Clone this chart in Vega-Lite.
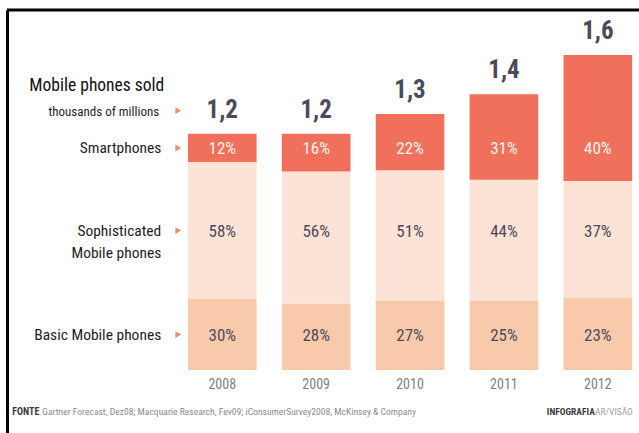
{
  "$schema": "https://vega.github.io/schema/vega-lite/v6.json",
  "autosize": "none",
  "width": 632,
  "height": 423,
  "padding": {"left": 7, "top": 10, "right": 0, "bottom": 0},
  "background": "white",
  "config": {"view": {"stroke": null}, "font": "Liberation Sans Narrow, Roboto Condensed, Roboto, sans-serif"},
  "datasets": {
    "segments": [
      {"year": "2008", "segment": "Basic Mobile phones", "order": 1, "value": 0.36, "share": "30%"},
      {"year": "2008", "segment": "Sophisticated\nMobile phones", "order": 2, "value": 0.696, "share": "58%"},
      {"year": "2008", "segment": "Smartphones", "order": 3, "value": 0.144, "share": "12%"},
      {"year": "2009", "segment": "Basic Mobile phones", "order": 1, "value": 0.336, "share": "28%"},
      {"year": "2009", "segment": "Sophisticated\nMobile phones", "order": 2, "value": 0.672, "share": "56%"},
      {"year": "2009", "segment": "Smartphones", "order": 3, "value": 0.192, "share": "16%"},
      {"year": "2010", "segment": "Basic Mobile phones", "order": 1, "value": 0.351, "share": "27%"},
      {"year": "2010", "segment": "Sophisticated\nMobile phones", "order": 2, "value": 0.663, "share": "51%"},
      {"year": "2010", "segment": "Smartphones", "order": 3, "value": 0.286, "share": "22%"},
      {"year": "2011", "segment": "Basic Mobile phones", "order": 1, "value": 0.35, "share": "25%"},
      {"year": "2011", "segment": "Sophisticated\nMobile phones", "order": 2, "value": 0.616, "share": "44%"},
      {"year": "2011", "segment": "Smartphones", "order": 3, "value": 0.434, "share": "31%"},
      {"year": "2012", "segment": "Basic Mobile phones", "order": 1, "value": 0.368, "share": "23%"},
      {"year": "2012", "segment": "Sophisticated\nMobile phones", "order": 2, "value": 0.592, "share": "37%"},
      {"year": "2012", "segment": "Smartphones", "order": 3, "value": 0.64, "share": "40%"}
    ],
    "totals": [
      {"year": "2008", "total": 1.2, "totalLabel": "1,2"},
      {"year": "2009", "total": 1.2, "totalLabel": "1,2"},
      {"year": "2010", "total": 1.3, "totalLabel": "1,3"},
      {"year": "2011", "total": 1.4, "totalLabel": "1,4"},
      {"year": "2012", "total": 1.6, "totalLabel": "1,6"}
    ],
    "one": [{}]
  },
  "data": {"name": "segments"},
  "transform": [
    {"stack": "value", "groupby": ["year"], "sort": [{"field": "order", "order": "ascending"}], "as": ["v0", "v1"]},
    {"calculate": "(datum.v0 + datum.v1) / 2", "as": "mid"},
    {"calculate": "datum.year === '2008' ? datum.mid : null", "as": "m8"},
    {"joinaggregate": [{"op": "max", "field": "m8", "as": "rowy"}], "groupby": ["segment"]}
  ],
  "layer": [
    {
      "mark": {"type": "bar"},
      "encoding": {
        "x": {"field": "year", "type": "nominal", "axis": null,
              "scale": {"type": "band", "domain": ["2008", "2009", "2010", "2011", "2012"], "paddingInner": 0.2688, "paddingOuter": 1.0323, "align": 0.9635}},
        "y": {"field": "v1", "type": "quantitative",
              "scale": {"domain": [-0.32, 1.8283], "nice": false, "zero": false},
              "axis": {"domain": true, "domainColor": "black", "domainWidth": 3, "ticks": false, "labels": false, "grid": false, "title": null}},
        "y2": {"field": "v0"},
        "color": {"field": "segment", "type": "nominal", "legend": null,
                  "scale": {"domain": ["Basic Mobile phones", "Sophisticated\nMobile phones", "Smartphones"], "range": ["#f8caab", "#fce3d6", "#f1705c"]}}
      }
    },
    {
      "mark": {"type": "text", "fontSize": 17, "baseline": "middle", "align": "center", "dy": 1},
      "encoding": {
        "x": {"field": "year", "type": "nominal"},
        "y": {"field": "rowy", "type": "quantitative"},
        "text": {"field": "share"},
        "color": {"condition": {"test": "datum.segment === 'Smartphones'", "value": "#fff4ee"}, "value": "#4d4a58"}
      }
    },
    {
      "transform": [{"filter": "datum.year === '2008'"}],
      "mark": {"type": "text", "fontSize": 15.5, "baseline": "middle", "align": "right", "dx": -61, "dy": 0, "lineBreak": "\n", "lineHeight": 22, "color": "#1e1e1e"},
      "encoding": {
        "x": {"field": "year", "type": "nominal"},
        "y": {"field": "rowy", "type": "quantitative"},
        "text": {"field": "segment"}
      }
    },
    {
      "transform": [{"filter": "datum.year === '2008'"}],
      "mark": {"type": "point", "shape": "triangle-right", "filled": true, "size": 45, "opacity": 1, "color": "#f08a72", "xOffset": -44},
      "encoding": {
        "x": {"field": "year", "type": "nominal"},
        "y": {"field": "rowy", "type": "quantitative"}
      }
    },
    {
      "data": {"name": "totals"},
      "mark": {"type": "text", "fontSize": 25, "fontWeight": "bold", "baseline": "alphabetic", "align": "center", "dy": -16, "color": "#4a4a5c"},
      "encoding": {
        "x": {"field": "year", "type": "nominal"},
        "y": {"field": "total", "type": "quantitative"},
        "text": {"field": "totalLabel"}
      }
    },
    {
      "data": {"name": "totals"},
      "mark": {"type": "text", "fontSize": 14, "baseline": "middle", "align": "center", "color": "#808080"},
      "encoding": {
        "x": {"field": "year", "type": "nominal"},
        "y": {"datum": -0.0762},
        "text": {"field": "year"}
      }
    },
    {
      "data": {"name": "totals"},
      "transform": [{"filter": "datum.year === '2008'"}],
      "mark": {"type": "text", "fontSize": 13, "baseline": "middle", "align": "right", "dx": -63, "dy": -22, "color": "#1e1e1e"},
      "encoding": {
        "x": {"field": "year", "type": "nominal"},
        "y": {"field": "total", "type": "quantitative"},
        "text": {"value": "thousands of millions"}
      }
    },
    {
      "data": {"name": "totals"},
      "transform": [{"filter": "datum.year === '2008'"}],
      "mark": {"type": "text", "fontSize": 17.5, "baseline": "middle", "align": "right", "dx": -58, "dy": -48, "color": "#111111"},
      "encoding": {
        "x": {"field": "year", "type": "nominal"},
        "y": {"field": "total", "type": "quantitative"},
        "text": {"value": "Mobile phones sold"}
      }
    },
    {
      "data": {"name": "totals"},
      "transform": [{"filter": "datum.year === '2008'"}],
      "mark": {"type": "point", "shape": "triangle-right", "filled": true, "size": 45, "opacity": 1, "color": "#f08a72", "xOffset": -44, "yOffset": -23},
      "encoding": {
        "x": {"field": "year", "type": "nominal"},
        "y": {"field": "total", "type": "quantitative"}
      }
    },
    {
      "data": {"name": "one"},
      "mark": {"type": "rule", "color": "black", "strokeWidth": 3},
      "encoding": {"y": {"datum": 1.8283}}
    },
    {
      "data": {"name": "one"},
      "mark": {"type": "text", "fontSize": 10, "fontWeight": "bold", "baseline": "middle", "align": "left", "dx": -210, "color": "#3c3c3c"},
      "encoding": {"x": {"datum": "2008"}, "y": {"datum": -0.2133}, "text": {"value": "FONTE"}}
    },
    {
      "data": {"name": "one"},
      "mark": {"type": "text", "fontSize": 9.6, "baseline": "middle", "align": "left", "dx": -180, "color": "#8a8a8a"},
      "encoding": {"x": {"datum": "2008"}, "y": {"datum": -0.2133}, "text": {"value": "Gartner Forecast, Dez08; Macquarie Research, Fev09; iConsumerSurvey2008, McKinsey & Company"}}
    },
    {
      "data": {"name": "one"},
      "mark": {"type": "text", "fontSize": 9.5, "fontWeight": "bold", "baseline": "middle", "align": "right", "dx": -3, "color": "#3c3c3c"},
      "encoding": {"x": {"datum": "2012"}, "y": {"datum": -0.2133}, "text": {"value": "INFOGRAFIA"}}
    },
    {
      "data": {"name": "one"},
      "mark": {"type": "text", "fontSize": 9.5, "baseline": "middle", "align": "right", "dx": 35, "color": "#a0a0a0"},
      "encoding": {"x": {"datum": "2012"}, "y": {"datum": -0.2133}, "text": {"value": "AR/VISÃO"}}
    }
  ]
}
